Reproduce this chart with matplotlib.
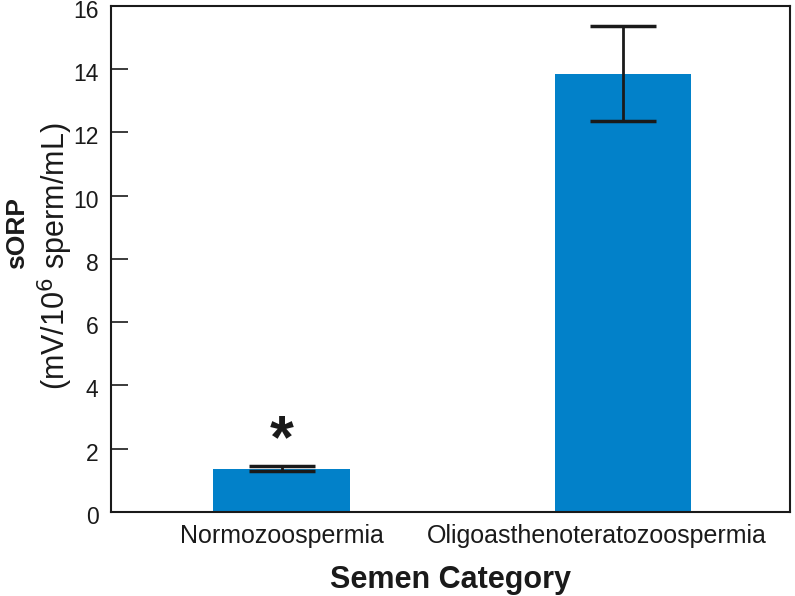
import matplotlib.pyplot as plt
from matplotlib.transforms import ScaledTranslation

# data
categories = ["Normozoospermia", "Oligoasthenoteratozoospermia"]
means = [1.36, 13.86]
errors = [0.08, 1.5]

plt.rcParams['font.family'] = ['Liberation Sans', 'DejaVu Sans']

fig = plt.figure(figsize=(7.95, 5.96), dpi=100)
ax = fig.add_axes([0.1396, 0.141, 0.8541, 0.849])

x = range(len(categories))
ax.bar(x, means, width=0.4, color='#0281C9', zorder=2)
ax.errorbar(x, means, yerr=errors, fmt='none', ecolor='#1a1a1a',
            elinewidth=2, capsize=24, capthick=2.5, zorder=3)

# significance marker above the first bar
ax.text(0, 2.22, '*', ha='center', va='center', fontsize=44,
        fontweight='bold', color='#1a1a1a')

ax.set_xlim(-0.5, 1.49)
ax.set_ylim(0, 16)
ax.set_yticks(range(0, 17, 2))
ax.set_xticks(list(x))
ax.set_xticklabels(categories)
ax.tick_params(axis='y', direction='in', length=12.5, width=1.2,
               labelsize=16.5, pad=9, colors='#1a1a1a')
ax.tick_params(axis='x', length=0, labelsize=18, pad=9, colors='#1a1a1a')
for s in ax.spines.values():
    s.set_linewidth(1.5)
    s.set_color('#1a1a1a')

# y labels sit a little below their ticks in the reference
down = ScaledTranslation(0, -0.03, fig.dpi_scale_trans)
for lab in ax.get_yticklabels():
    lab.set_transform(lab.get_transform() + down)
# long category name is pulled left to stay inside the figure
left = ScaledTranslation(-0.26, 0, fig.dpi_scale_trans)
lab2 = ax.get_xticklabels()[1]
lab2.set_transform(lab2.get_transform() + left)

ax.set_xlabel('Semen Category', fontsize=22, fontweight='bold',
              labelpad=12, color='#1a1a1a')

fig.text(0.021, 0.609, 'sORP', rotation=90, ha='center', va='center',
         fontsize=19, fontweight='bold', color='#1a1a1a')
fig.text(0.070, 0.57, r'(mV/10$^{6}$ sperm/mL)', rotation=90, ha='center',
         va='center', fontsize=22, color='#1a1a1a')

fig.savefig('out.png', dpi=100)
